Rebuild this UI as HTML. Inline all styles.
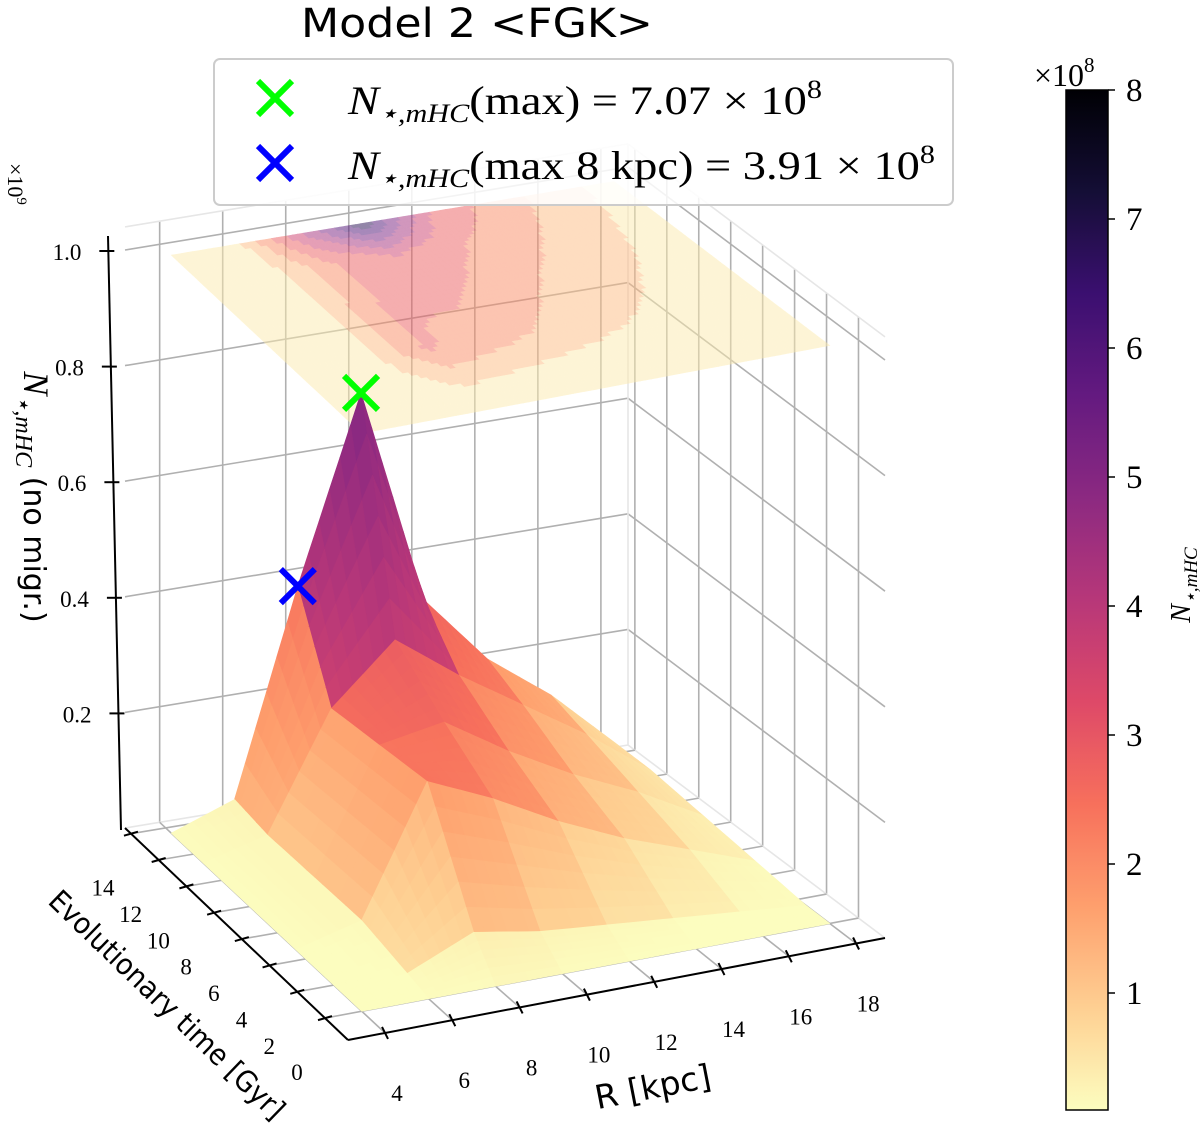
<!DOCTYPE html>
<html><head><meta charset="utf-8"><style>
html,body{margin:0;padding:0;background:#fff;}
svg{display:block;}
.tk{font-family:"Liberation Serif",serif;font-size:23px;fill:#000;}
</style></head><body>
<svg id="chart" width="1200" height="1129" viewBox="0 0 1200 1129" xmlns="http://www.w3.org/2000/svg">
<g id="grid"></g>
<g id="floorgrid"></g>
<g id="contour"></g>
<g id="surface"></g>
<g id="axes"></g>
<g id="markers"></g>
<text x="477" y="37" text-anchor="middle" font-family="'DejaVu Sans','Liberation Sans',sans-serif" font-size="40" textLength="352" lengthAdjust="spacingAndGlyphs">Model 2 &lt;FGK&gt;</text>
<g>
<rect x="214" y="59" width="739" height="146" rx="6" fill="#fff" fill-opacity="0.85" stroke="#cccccc" stroke-width="2"/>
<g stroke="#00ff00" stroke-width="6"><line x1="258" y1="81" x2="292" y2="115"/><line x1="258" y1="115" x2="292" y2="81"/></g>
<g stroke="#0000ff" stroke-width="6"><line x1="258" y1="146" x2="292" y2="180"/><line x1="258" y1="180" x2="292" y2="146"/></g>
<text x="348" y="114" font-family="'Liberation Serif',serif" font-size="40" textLength="474" lengthAdjust="spacingAndGlyphs"><tspan font-style="italic">N</tspan><tspan font-size="26" dy="8" font-style="italic">⋆,mHC</tspan><tspan dy="-8">(max) = 7.07 × 10</tspan><tspan font-size="26" dy="-16">8</tspan></text>
<text x="348" y="179" font-family="'Liberation Serif',serif" font-size="40" textLength="587" lengthAdjust="spacingAndGlyphs"><tspan font-style="italic">N</tspan><tspan font-size="26" dy="8" font-style="italic">⋆,mHC</tspan><tspan dy="-8">(max 8 kpc) = 3.91 × 10</tspan><tspan font-size="26" dy="-16">8</tspan></text>
</g>
<text transform="translate(8,163) rotate(90)" font-family="'Liberation Serif',serif" font-size="22">×10<tspan font-size="15" dy="-9">9</tspan></text>
<text transform="translate(24,497) rotate(90)" text-anchor="middle" font-family="'Liberation Serif',serif" font-size="36"><tspan font-style="italic">N</tspan><tspan font-size="24" dy="8" font-style="italic">⋆,mHC</tspan><tspan dy="-8" font-family="'DejaVu Sans',sans-serif" font-size="30"> (no migr.)</tspan></text>
<text transform="translate(160,1012) rotate(44)" text-anchor="middle" font-family="'DejaVu Sans','Liberation Sans',sans-serif" font-size="29" textLength="315" lengthAdjust="spacingAndGlyphs">Evolutionary time [Gyr]</text>
<text transform="translate(655,1098) rotate(-11)" text-anchor="middle" font-family="'DejaVu Sans','Liberation Sans',sans-serif" font-size="33">R [kpc]</text>
<g id="cbar"></g>
<text transform="translate(1190,585) rotate(-90)" text-anchor="middle" font-family="'Liberation Serif',serif" font-size="28" font-style="italic">N<tspan font-size="19" dy="7">⋆,mHC</tspan></text>
</svg>
<script>
// ---- data ----
const Rvals = [4, 6, 8, 10, 12, 14, 16, 18];
const tvals = [0, 1.5, 4.7, 8, 11.3, 13.6];
const z_t0   = [0, 0,    0,    0,    0,    0,    0,    0];
const z_t15  = [0, 0.1,  0.6,  0.4,  0.3,  0.2,  0.1,  0];
const z_t47  = [0, 0.3,  2.5,  2.0,  1.4,  0.9,  0.5,  0.1];
const z_t8   = [0, 0.3,  2.4,  2.6,  1.9,  1.3,  0.8,  0.2];
const z_t113 = [0, 0.3,  2.3,  3.3,  2.5,  1.8,  1.1,  0.3];
const z_t136 = [0, 0.4,  3.91, 7.07, 3.3,  2.1,  1.3,  0.3];
const zRows = [z_t0, z_t15, z_t47, z_t8, z_t113, z_t136];
const markerMax = [10, 13.6, 7.07];
const marker8 = [8, 13.6, 3.91];
const rTicks = [4, 6, 8, 10, 12, 14, 16, 18];
const tTicks = [0, 2, 4, 6, 8, 10, 12, 14];
const zTicks = [0.2, 0.4, 0.6, 0.8, 1.0];
const zTickLabels = ["0.2", "0.4", "0.6", "0.8", "1.0"];
const cbTicks = [1, 2, 3, 4, 5, 6, 7, 8];

// ---- projection ----
const Rlo = 2.9, Rhi = 18.86, tlo = -1.66, thi = 14.43, ztop = 1.04, zpx = 578;
const P00 = [348, 1040], P10 = [885, 938], P01 = [125, 828], P11 = [628, 745];
function proj(R, t, z) {
  const u = (R - Rlo) / (Rhi - Rlo), v = (t - tlo) / (thi - tlo);
  const a = (1 - u) * (1 - v), b = u * (1 - v), c = (1 - u) * v, d = u * v;
  const x = a * P00[0] + b * P10[0] + c * P01[0] + d * P11[0];
  const y = a * P00[1] + b * P10[1] + c * P01[1] + d * P11[1];
  return [x, y - z * zpx];
}
// ---- colormap (magma reversed) ----
const mStops = ["#000004","#140e36","#3b0f70","#641a80","#8c2981","#b73779","#de4968","#f7705c","#fe9f6d","#fecf92","#fcfdbf"];
function hex(h){return [parseInt(h.slice(1,3),16),parseInt(h.slice(3,5),16),parseInt(h.slice(5,7),16)];}
function magma(f){f=Math.max(0,Math.min(1,f));const p=f*10,i=Math.min(9,Math.floor(p)),r=p-i;const A=hex(mStops[i]),B=hex(mStops[i+1]);
  return "rgb("+A.map((c,k)=>Math.round(c+(B[k]-c)*r)).join(",")+")";}
const vmin = 0.093, vmax = 8;
function cmap(v){return magma(1 - (v - vmin) / (vmax - vmin));}

const NS = "http://www.w3.org/2000/svg";
function mk(tag, attrs, parent){const e=document.createElementNS(NS,tag);for(const k in attrs)e.setAttribute(k,attrs[k]);parent.appendChild(e);return e;}
function pts(a){return a.map(p=>p[0].toFixed(1)+","+p[1].toFixed(1)).join(" ");}

// ---- grid ----
const grid = document.getElementById('grid');
const gs = {stroke:"#b0b0b0","stroke-width":"1.6",fill:"none"};
function gl(p,q,name){const l=mk('line',Object.assign({x1:p[0],y1:p[1],x2:q[0],y2:q[1]},gs),grid);
  
  }
rTicks.forEach(R=>gl(proj(R,thi,0),proj(R,thi,ztop),'back-gridline-r'));
zTicks.forEach(z=>{gl(proj(Rlo,thi,z),proj(Rhi,thi,z),'back-gridline-z');gl(proj(Rhi,thi,z),proj(Rhi,tlo,z),'side-gridline-z');});
tTicks.forEach(t=>gl(proj(Rhi,t,0),proj(Rhi,t,ztop),'side-gridline-t'));
[[Rlo,thi,0,Rhi,thi,0],[Rhi,thi,0,Rhi,tlo,0],[Rlo,thi,ztop,Rhi,thi,ztop],[Rhi,thi,ztop,Rhi,tlo,ztop],[Rhi,thi,0,Rhi,thi,ztop]].forEach(e=>{
  const l=mk('line',{x1:proj(e[0],e[1],e[2])[0],y1:proj(e[0],e[1],e[2])[1],x2:proj(e[3],e[4],e[5])[0],y2:proj(e[3],e[4],e[5])[1],stroke:"#e6e6e6","stroke-width":"1.6"},grid);
  
  });
const fg = document.getElementById('floorgrid');
rTicks.forEach(R=>{const p=proj(R,tlo,0),q=proj(R,thi,0);const l=mk('line',Object.assign({x1:p[0],y1:p[1],x2:q[0],y2:q[1]},gs),fg);
  
  });
tTicks.forEach(t=>{const p=proj(Rlo,t,0),q=proj(Rhi,t,0);const l=mk('line',Object.assign({x1:p[0],y1:p[1],x2:q[0],y2:q[1]},gs),fg);
  
  });

// ---- interpolation ----
function zAt(i,j,fi,fj){
  const a=zRows[i][j], b=zRows[i][j+1], c=zRows[i+1][j], d=zRows[i+1][j+1];
  return a*(1-fi)*(1-fj)+b*(1-fi)*fj+c*fi*(1-fj)+d*fi*fj;}

// ---- contour projection ----
const cg = document.getElementById('contour');
const levelStep = 0.8, NC = 12;
const cpatches = [];
for(let i=0;i<tvals.length-1;i++)for(let j=0;j<Rvals.length-1;j++)for(let a=0;a<NC;a++)for(let b=0;b<NC;b++){
  const f0=a/NC,f1=(a+1)/NC,g0=b/NC,g1=(b+1)/NC;
  const t0=tvals[i]+(tvals[i+1]-tvals[i])*f0,t1=tvals[i]+(tvals[i+1]-tvals[i])*f1;
  const r0=Rvals[j]+(Rvals[j+1]-Rvals[j])*g0,r1=Rvals[j]+(Rvals[j+1]-Rvals[j])*g1;
  const zc=zAt(i,j,(f0+f1)/2,(g0+g1)/2);
  const lv=(Math.floor(zc/levelStep)+0.5)*levelStep;
  cpatches.push({p:[proj(r0,t0,1.0),proj(r1,t0,1.0),proj(r1,t1,1.0),proj(r0,t1,1.0)],c:cmap(lv)});}
cpatches.forEach(q=>{const e=mk('polygon',{points:pts(q.p),fill:q.c,stroke:q.c,"stroke-width":"0.6"},cg);
  
  });
cg.setAttribute('opacity','0.5');

// ---- surface ----
const sg = document.getElementById('surface');
const NS_ = 6, patches=[];
for(let i=0;i<tvals.length-1;i++)for(let j=0;j<Rvals.length-1;j++){
  const cellAvg=(zRows[i][j]+zRows[i][j+1]+zRows[i+1][j]+zRows[i+1][j+1])/4;
  for(let a=0;a<NS_;a++)for(let b=0;b<NS_;b++){
  const f0=a/NS_,f1=(a+1)/NS_,g0=b/NS_,g1=(b+1)/NS_;
  const t0=tvals[i]+(tvals[i+1]-tvals[i])*f0,t1=tvals[i]+(tvals[i+1]-tvals[i])*f1;
  const r0=Rvals[j]+(Rvals[j+1]-Rvals[j])*g0,r1=Rvals[j]+(Rvals[j+1]-Rvals[j])*g1;
  const z00=zAt(i,j,f0,g0),z01=zAt(i,j,f0,g1),z11=zAt(i,j,f1,g1),z10=zAt(i,j,f1,g0);
  const zc=0.7*cellAvg+0.3*(z00+z01+z11+z10)/4;
  const depth=proj((r0+r1)/2,(t0+t1)/2,0)[1];
  patches.push({d:depth,c:cmap(zc),p:[proj(r0,t0,z00/10),proj(r1,t0,z01/10),proj(r1,t1,z11/10),proj(r0,t1,z10/10)]});}}
patches.sort((A,B)=>A.d-B.d);
patches.forEach(q=>{const e=mk('polygon',{points:pts(q.p),fill:q.c,stroke:q.c,"stroke-width":"0.7","stroke-linejoin":"round"},sg);
  
  });

// ---- axes ----
const ax = document.getElementById('axes');
function line(p,q,w,name){const l=mk('line',{x1:p[0],y1:p[1],x2:q[0],y2:q[1],stroke:"#000","stroke-width":w},ax);
  
  }
line(proj(Rlo,tlo,0),proj(Rhi,tlo,0),2,'r-axis-line');
line(proj(Rlo,tlo,0),proj(Rlo,thi,0),2,'time-axis-line');
rTicks.forEach(R=>{const p=proj(R,tlo,0);line([p[0]-3,p[1]-6],[p[0]+3,p[1]+6],2,'r-tick');
  const t=mk('text',{x:p[0]+12,y:p[1]+68,"text-anchor":"middle",class:"tk"},ax);t.textContent=R;
  
  });
tTicks.forEach(tv=>{const p=proj(Rlo,tv,0);line([p[0]+7,p[1]-2],[p[0]-7,p[1]+2],2,'time-tick');
  const t=mk('text',{x:p[0]-28,y:p[1]+62,"text-anchor":"middle",class:"tk"},ax);t.textContent=tv;
  
  });
const zx0=121, zx1=108, zb=830, zt=236;
line([zx0,zb],[zx1,zt],2,'z-axis-line');
zTicks.forEach((z,k)=>{const y=829-z*zpx;const x=zx0+(zx1-zx0)*(zb-y)/(zb-zt);
  line([x-9,y],[x+6,y],2,'z-tick');
  const t=mk('text',{x:x-27,y:y+9,"text-anchor":"end",class:"tk"},ax);t.textContent=zTickLabels[k];
  
  });

// ---- markers ----
const mg = document.getElementById('markers');
[[markerMax,"#00ff00",'marker-max'],[marker8,"#0000ff",'marker-8kpc']].forEach(m=>{
  const p=proj(m[0][0],m[0][1],m[0][2]/10);const s=17;
  const g=mk('g',{stroke:m[1],"stroke-width":"6"},mg);
  
  
  mk('line',{x1:p[0]-s,y1:p[1]-s,x2:p[0]+s,y2:p[1]+s},g);
  mk('line',{x1:p[0]-s,y1:p[1]+s,x2:p[0]+s,y2:p[1]-s},g);});

// ---- colorbar ----
const cb = document.getElementById('cbar');
const cbx=1066, cbw=42, cbTop=90, cbBot=1110;
function cbY(v){return cbBot-(v-vmin)/(vmax-vmin)*(cbBot-cbTop);}
const defs=mk('defs',{},cb);
const grad=mk('linearGradient',{id:"cbg",x1:"0",y1:"1",x2:"0",y2:"0"},defs);
for(let k=0;k<=40;k++){const f=k/40;mk('stop',{offset:f,"stop-color":cmap(vmin+f*(vmax-vmin))},grad);}
const bar=mk('rect',{x:cbx,y:cbTop,width:cbw,height:cbBot-cbTop,fill:"url(#cbg)",stroke:"#000","stroke-width":"1.5"},cb);


cbTicks.forEach(v=>{const y=cbY(v);
  const l=mk('line',{x1:cbx+cbw,y1:y,x2:cbx+cbw+7,y2:y,stroke:"#000","stroke-width":"1.5"},cb);
  
  
  const t=mk('text',{x:cbx+cbw+18,y:y+11,"font-family":"'Liberation Serif',serif","font-size":"33"},cb);t.textContent=v;
  
  });
const mul=mk('text',{x:1034,y:86,"font-family":"'Liberation Serif',serif","font-size":"32"},cb);
mul.textContent="×10";


const ex=mk('tspan',{"font-size":"21",dy:"-14"},mul);ex.textContent="8";
</script>
</body></html>
